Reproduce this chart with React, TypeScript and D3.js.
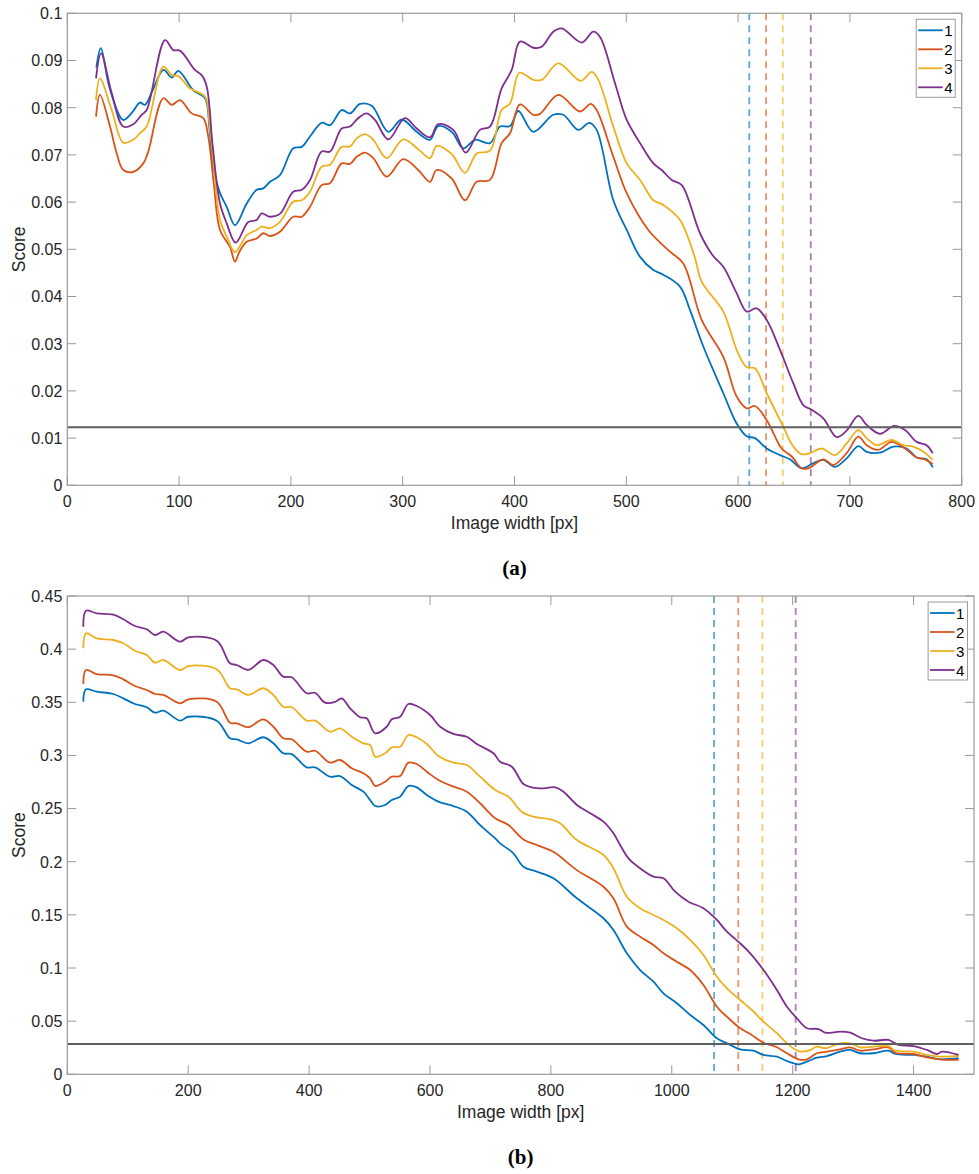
import React from "react";
import * as d3 from "d3";

// ---------- DATA ----------
const seriesNames = ["1", "2", "3", "4"];
const seriesColors = ["#0072BD", "#D95319", "#EDB120", "#7E2F8E"];

const xTicksA = [0, 100, 200, 300, 400, 500, 600, 700, 800];
const yTicksA = [0, 0.01, 0.02, 0.03, 0.04, 0.05, 0.06, 0.07, 0.08, 0.09, 0.1];
const yTickLabelsA = ["0", "0.01", "0.02", "0.03", "0.04", "0.05", "0.06", "0.07", "0.08", "0.09", "0.1"];
const xTicksB = [0, 200, 400, 600, 800, 1000, 1200, 1400];
const yTicksB = [0, 0.05, 0.1, 0.15, 0.2, 0.25, 0.3, 0.35, 0.4, 0.45];
const yTickLabelsB = ["0", "0.05", "0.1", "0.15", "0.2", "0.25", "0.3", "0.35", "0.4", "0.45"];

const thresholdA = 0.0123;
const thresholdB = 0.0285;
const cutoffsA = [610, 625, 640, 665];
const cutoffsB = [1070, 1110, 1150, 1205];

const a1: [number, number][] = [[26,0.0885],[30,0.0926],[38,0.084],[50,0.0774],[58,0.079],[65,0.0811],[69.4,0.0806],[76,0.0835],[86,0.088],[93.4,0.0864],[99.3,0.0878],[112.7,0.0837],[123.2,0.082],[127,0.076],[130.6,0.0675],[136.6,0.0619],[142.6,0.059],[150,0.0551],[160.5,0.0597],[169.4,0.0626],[175.3,0.0629],[181.3,0.0643],[190.2,0.0657],[202.1,0.0714],[209.7,0.0717],[217.1,0.0739],[227.5,0.0768],[235,0.0763],[245.4,0.0795],[252.9,0.0788],[261.8,0.0808],[272.3,0.0804],[287.1,0.0749],[299.1,0.0775],[312.5,0.0749],[324.4,0.0732],[331.8,0.0761],[343.8,0.0749],[354.2,0.0714],[364.7,0.0732],[378.1,0.0725],[387,0.076],[396,0.0761],[403.4,0.0793],[416.8,0.0749],[434.7,0.0785],[443.6,0.0785],[457.1,0.0753],[466.9,0.0768],[473.5,0.0753],[488.4,0.0604],[500.4,0.0541],[512.3,0.0484],[524.2,0.0456],[533.1,0.0446],[548,0.0421],[557,0.0371],[568.9,0.0294],[586.8,0.0195],[598.7,0.0131],[607.7,0.0104],[615.1,0.01],[625.6,0.0078],[637.5,0.0064],[646.4,0.0055],[656.9,0.0036],[667.3,0.0047],[676.2,0.0054],[686.7,0.0039],[697.1,0.0057],[707.5,0.0083],[715,0.0071],[726.9,0.0069],[738.8,0.0082],[750.7,0.0078],[759.7,0.0059],[768.6,0.0055],[774.1,0.0038]];
const a2: [number, number][] = [[25.7,0.0781],[29.2,0.0827],[38.2,0.076],[44,0.0705],[50.1,0.0668],[59,0.0664],[68,0.0682],[72.4,0.0707],[85.9,0.082],[93.4,0.0806],[100.8,0.0816],[111.3,0.0788],[121.6,0.0778],[126,0.074],[131,0.064],[136.6,0.0541],[145.5,0.0505],[150,0.0474],[154,0.0495],[160.5,0.0516],[169.4,0.0523],[175.3,0.0534],[181.3,0.0528],[190.2,0.0537],[202.1,0.0569],[209.7,0.0569],[217.1,0.059],[227.5,0.0636],[235,0.064],[245.4,0.0682],[252.9,0.0681],[258.9,0.0696],[266.3,0.0705],[273.7,0.0693],[285.7,0.0654],[300.5,0.0691],[313.9,0.0668],[324.4,0.0643],[330.4,0.0668],[343.8,0.065],[355.7,0.0604],[366.2,0.0643],[378.1,0.0647],[388.5,0.0725],[396,0.0746],[404.9,0.0807],[416.8,0.0785],[422.8,0.0787],[439.2,0.0827],[458.6,0.0792],[468.2,0.0808],[473.5,0.0795],[488.4,0.0696],[500.4,0.0619],[519.7,0.0541],[539.1,0.0495],[551,0.047],[567.5,0.035],[586.8,0.0272],[598.7,0.0188],[607.7,0.0163],[615.1,0.0168],[625.6,0.0138],[639,0.0078],[648,0.0061],[656.9,0.0036],[662.8,0.0036],[676.2,0.0055],[685.2,0.0043],[697.1,0.0068],[707.5,0.0103],[715,0.0085],[725.4,0.0075],[737.3,0.0092],[749.3,0.0078],[759.7,0.0059],[767.1,0.0055],[774.1,0.0045]];
const a3: [number, number][] = [[25.7,0.0816],[29.2,0.0862],[39.7,0.0795],[50.1,0.0726],[59,0.0732],[65,0.0746],[71,0.076],[85.9,0.0887],[93.4,0.0869],[99.3,0.0867],[109.8,0.0841],[123.2,0.0823],[127,0.077],[131,0.068],[136.6,0.0562],[143,0.0525],[150,0.0494],[160.5,0.053],[169.4,0.0541],[173.8,0.0548],[181.3,0.0545],[190.2,0.0558],[202.1,0.0601],[209.7,0.0604],[217.1,0.0622],[227.5,0.0675],[235,0.0679],[245.4,0.0717],[252.9,0.0718],[258.9,0.0735],[266.3,0.0744],[273.7,0.0732],[285.7,0.0693],[300.5,0.0733],[313.9,0.0712],[324.4,0.0693],[330.4,0.0719],[343.8,0.0702],[355.7,0.0662],[366.2,0.0703],[378.1,0.0709],[388.5,0.0795],[396,0.0809],[404.4,0.0874],[416.8,0.0859],[424.3,0.0859],[439.2,0.0894],[459.2,0.0857],[469.1,0.0876],[475,0.0859],[488.4,0.076],[500.4,0.0682],[512.3,0.0647],[524.2,0.0604],[533.1,0.0594],[548,0.0562],[561,0.0485],[567.5,0.0431],[586.8,0.0368],[598.7,0.0287],[607.7,0.025],[615.1,0.0248],[625.6,0.0195],[639,0.0131],[649.4,0.0082],[656.9,0.0066],[664.3,0.0068],[674.8,0.0078],[686.7,0.0064],[697.1,0.0089],[707.5,0.0117],[715,0.01],[724,0.0085],[737.3,0.0096],[747.8,0.0085],[756.7,0.0082],[765.7,0.0071],[774.1,0.0054]];
const a4: [number, number][] = [[25.7,0.0862],[30.2,0.0915],[39.7,0.0831],[50.1,0.076],[59,0.0765],[66.5,0.0785],[71,0.0795],[87.4,0.0943],[94.8,0.0922],[100.8,0.0921],[114.2,0.088],[120.2,0.0869],[124.7,0.0845],[130,0.072],[136.6,0.0597],[142.6,0.0555],[150.6,0.0514],[161.9,0.0558],[169.4,0.0562],[173.8,0.0576],[181.3,0.0569],[190.2,0.0575],[202.1,0.0622],[209.7,0.0626],[217.1,0.0647],[227.5,0.0707],[235,0.0707],[245.4,0.0756],[252.9,0.076],[260.3,0.0778],[267.8,0.0788],[275.2,0.0774],[287.1,0.0733],[302,0.0778],[312.5,0.0756],[324.4,0.0737],[331.8,0.0765],[345.3,0.0753],[356.3,0.0705],[369.1,0.0753],[378.1,0.076],[388.5,0.0841],[397.5,0.088],[404.9,0.094],[416.8,0.0927],[424.3,0.0929],[434.7,0.0961],[442.2,0.0968],[460.1,0.0938],[470.5,0.0961],[476.5,0.095],[489.9,0.0852],[500.4,0.0774],[512.3,0.0725],[524.2,0.0682],[531.7,0.0668],[540.6,0.0647],[549.6,0.0636],[565.9,0.0534],[577,0.0488],[586.8,0.0463],[598.7,0.0407],[607.7,0.0368],[616.6,0.0375],[625.6,0.035],[637.5,0.0287],[649.4,0.0216],[658.3,0.017],[665.8,0.016],[676.2,0.0142],[688.2,0.0102],[697.1,0.0116],[707.5,0.0147],[715,0.0128],[726.9,0.0109],[739.4,0.0126],[749.3,0.0117],[759.7,0.0092],[768.6,0.0085],[774.1,0.0068]];

const b1: [number, number][] = [[26.5,0.3506],[30.9,0.3622],[48.6,0.36],[76.1,0.3578],[92.7,0.3537],[112,0.3484],[131.4,0.3453],[145.1,0.3402],[158.9,0.3421],[186.5,0.3327],[200.2,0.3364],[247.2,0.3327],[269.2,0.3161],[280.3,0.3152],[299.5,0.3114],[324.3,0.3171],[340.9,0.3114],[357.4,0.302],[371.3,0.3013],[396.2,0.2888],[409.9,0.2888],[434.7,0.28],[451.3,0.2806],[470.6,0.2722],[489.8,0.2659],[500.9,0.2581],[509.2,0.2524],[525.7,0.2534],[536.8,0.2581],[550.6,0.2612],[564.3,0.2712],[578.2,0.27],[594.7,0.2628],[614,0.2565],[638.8,0.2524],[660.9,0.2471],[682.9,0.2345],[707.8,0.222],[716,0.2173],[738,0.2079],[754.6,0.1953],[776.8,0.1906],[804.2,0.1844],[843,0.1656],[887,0.1468],[903.5,0.1358],[925.7,0.1138],[947.7,0.0981],[969.7,0.0871],[986.3,0.0762],[1008.4,0.0668],[1030.5,0.0558],[1052.4,0.0464],[1074.6,0.0339],[1091.2,0.0292],[1113.2,0.0235],[1135.2,0.0222],[1151.8,0.0182],[1173.9,0.0166],[1190.5,0.0125],[1209.7,0.0094],[1223.6,0.0119],[1240.1,0.0156],[1256.7,0.0172],[1278.7,0.0213],[1295.2,0.0229],[1311.8,0.0198],[1333.8,0.0198],[1358.6,0.0222],[1369.7,0.0191],[1400,0.0182],[1422.2,0.0166],[1444.2,0.0141],[1474.5,0.0151]];
const b2: [number, number][] = [[26.5,0.3672],[30.9,0.3804],[48.6,0.3766],[76.1,0.3754],[92.7,0.3716],[112,0.3653],[131.4,0.3616],[145.1,0.3578],[158.9,0.3569],[186.5,0.349],[200.2,0.3528],[247.2,0.3506],[269.2,0.3308],[280.3,0.3302],[299.5,0.3265],[324.3,0.334],[340.9,0.327],[357.4,0.3161],[371.3,0.3152],[396.2,0.3035],[409.9,0.3044],[434.7,0.2932],[451.3,0.2957],[470.6,0.2879],[489.8,0.2832],[500.9,0.2785],[509.2,0.2712],[525.7,0.2753],[536.8,0.28],[550.6,0.2806],[564.3,0.2932],[578.2,0.2919],[594.7,0.2847],[614,0.2769],[638.8,0.2706],[660.9,0.2659],[682.9,0.255],[707.8,0.2409],[729.8,0.2345],[754.6,0.221],[776.8,0.2157],[804.2,0.2094],[843,0.1921],[887,0.1765],[903.5,0.1656],[925.7,0.1389],[947.7,0.1295],[969.7,0.1216],[986.3,0.1138],[1008.4,0.1059],[1030.5,0.0981],[1052.4,0.084],[1074.6,0.0636],[1091.2,0.0542],[1113.2,0.0433],[1129.8,0.0379],[1151.8,0.0297],[1173.9,0.0254],[1190.5,0.0198],[1209.7,0.0141],[1223.6,0.0141],[1240.1,0.0198],[1256.7,0.0213],[1278.7,0.0235],[1295.2,0.0254],[1311.8,0.0222],[1333.8,0.0235],[1358.6,0.0254],[1369.7,0.0203],[1400,0.0191],[1422.2,0.016],[1444.2,0.0141],[1474.5,0.0135]];
const b3: [number, number][] = [[26.5,0.4008],[30.9,0.4149],[48.6,0.4102],[76.1,0.4086],[92.7,0.4055],[112,0.3985],[131.4,0.3945],[145.1,0.3873],[158.9,0.3898],[186.5,0.3804],[200.2,0.3841],[247.2,0.381],[269.2,0.3632],[280.3,0.3622],[299.5,0.3569],[324.3,0.3632],[340.9,0.3569],[357.4,0.3458],[371.3,0.3453],[396.2,0.3327],[409.9,0.3327],[434.7,0.3223],[451.3,0.3255],[470.6,0.3176],[489.8,0.3114],[500.9,0.3098],[509.2,0.2988],[525.7,0.302],[536.8,0.3076],[550.6,0.3082],[564.3,0.3192],[578.2,0.3171],[594.7,0.3108],[614,0.2995],[638.8,0.2932],[660.9,0.291],[682.9,0.28],[707.8,0.2675],[729.8,0.2612],[751.9,0.2471],[771.1,0.2424],[798.8,0.2399],[815.3,0.2361],[843,0.2204],[887,0.2063],[903.5,0.1938],[925.7,0.1671],[947.7,0.1562],[969.7,0.1499],[986.3,0.1452],[1008.4,0.1374],[1030.5,0.1264],[1052.4,0.1122],[1074.6,0.0918],[1091.2,0.0809],[1113.2,0.0699],[1132.5,0.0605],[1151.8,0.0495],[1173.9,0.0386],[1190.5,0.0292],[1209.7,0.0219],[1226.3,0.0222],[1240.1,0.026],[1253.9,0.0245],[1278.7,0.0292],[1295.2,0.0292],[1311.8,0.0254],[1333.8,0.026],[1358.6,0.0266],[1369.7,0.0222],[1400,0.0213],[1422.2,0.0182],[1444.2,0.0166],[1474.5,0.0172]];
const b4: [number, number][] = [[26.5,0.4211],[30.9,0.4362],[48.6,0.4337],[76.1,0.4324],[92.7,0.4281],[112,0.4218],[131.4,0.4187],[145.1,0.4133],[158.9,0.4164],[186.5,0.407],[200.2,0.4111],[247.2,0.4079],[269.2,0.3867],[280.3,0.3851],[299.5,0.3804],[324.3,0.3898],[340.9,0.3851],[357.4,0.3741],[371.3,0.3735],[396.2,0.3585],[409.9,0.359],[426.4,0.3496],[443,0.3503],[454.1,0.3537],[467.8,0.3443],[484.4,0.3359],[495.4,0.3349],[509.2,0.3208],[528.5,0.327],[536.8,0.334],[550.6,0.3364],[564.3,0.3484],[578.2,0.3465],[600.2,0.338],[616.8,0.327],[638.8,0.3202],[660.9,0.3176],[677.5,0.3108],[705,0.302],[716,0.2941],[735.4,0.2894],[754.6,0.2731],[768.5,0.27],[787.7,0.2691],[807,0.27],[820.8,0.2659],[843,0.2534],[865,0.2456],[887,0.2377],[903.5,0.2267],[914.6,0.2157],[928.4,0.2032],[947.7,0.1938],[969.7,0.1859],[986.3,0.1844],[1005.6,0.1718],[1027.6,0.1624],[1052.4,0.1562],[1074.6,0.1452],[1091.2,0.1342],[1113.2,0.1232],[1129.8,0.1138],[1151.8,0.0981],[1173.9,0.0793],[1190.5,0.0636],[1207,0.0527],[1223.6,0.0433],[1242.8,0.0426],[1253.9,0.0391],[1278.7,0.0401],[1295.2,0.0391],[1314.6,0.0339],[1333.8,0.0316],[1358.6,0.0323],[1375.2,0.0276],[1400,0.0266],[1422.2,0.0229],[1438.7,0.0191],[1447,0.0213],[1474.5,0.0182]];

// ---------- RENDERING ----------
const FONT = "'Liberation Sans', Arial, Helvetica, sans-serif";
const AXIS_COLOR = "#9a9a9a";
const TEXT_COLOR = "#262626";

type PanelProps = {
  left: number; right: number; top: number; bottom: number;
  xDomain: [number, number]; yDomain: [number, number];
  xTicks: number[]; yTicks: number[]; yTickLabels: string[];
  series: [number, number][][];
  threshold: number; cutoffs: number[];
  legendW: number; caption: string;
};

function Panel(p: PanelProps) {
  const x = d3.scaleLinear().domain(p.xDomain).range([p.left, p.right]);
  const y = d3.scaleLinear().domain(p.yDomain).range([p.bottom, p.top]);
  const line = d3.line<[number, number]>()
    .x(d => x(d[0])).y(d => y(d[1]))
    .curve(d3.curveCatmullRom.alpha(0.5));
  const tl = 9;
  const midX = (p.left + p.right) / 2;
  const midY = (p.top + p.bottom) / 2;
  const lgX = p.right - 6.5 - p.legendW;
  const lgY = p.top + 6;
  const rowH = 19;
  return (
    <g>
      {/* dashed cutoff lines */}
      {p.cutoffs.map((c, i) => (
        <line key={"c" + i} x1={x(c)} x2={x(c)} y1={p.top} y2={p.bottom}
          stroke={seriesColors[i]} strokeOpacity={0.62} strokeWidth={1.8} strokeDasharray="7,5" />
      ))}
      {/* series */}
      {p.series.map((s, i) => (
        <path key={"s" + i} d={line(s) || ""} fill="none" stroke={seriesColors[i]} strokeWidth={1.8} strokeLinejoin="round" />
      ))}
      {/* threshold */}
      <line x1={p.left} x2={p.right} y1={y(p.threshold)} y2={y(p.threshold)} stroke="#5f5f5f" strokeWidth={1.8} />
      {/* box */}
      <rect x={p.left} y={p.top} width={p.right - p.left} height={p.bottom - p.top} fill="none" stroke={AXIS_COLOR} strokeWidth={1.2} />
      {/* ticks */}
      {p.xTicks.map((t, i) => (
        <g key={"xt" + i}>
          <line x1={x(t)} x2={x(t)} y1={p.bottom} y2={p.bottom - tl} stroke={AXIS_COLOR} strokeWidth={1} />
          <line x1={x(t)} x2={x(t)} y1={p.top} y2={p.top + tl} stroke={AXIS_COLOR} strokeWidth={1} />
          <text x={x(t)} y={p.bottom + 22} textAnchor="middle" fontFamily={FONT} fontSize={16} fill={TEXT_COLOR}>{String(t)}</text>
        </g>
      ))}
      {p.yTicks.map((t, i) => (
        <g key={"yt" + i}>
          <line x1={p.left} x2={p.left + tl} y1={y(t)} y2={y(t)} stroke={AXIS_COLOR} strokeWidth={1} />
          <line x1={p.right} x2={p.right - tl} y1={y(t)} y2={y(t)} stroke={AXIS_COLOR} strokeWidth={1} />
          <text x={p.left - 5} y={y(t) + 5.8} textAnchor="end" fontFamily={FONT} fontSize={16} fill={TEXT_COLOR}>{p.yTickLabels[i]}</text>
        </g>
      ))}
      {/* axis labels */}
      <text x={midX} y={p.bottom + 44} textAnchor="middle" fontFamily={FONT} fontSize={17.5} fill={TEXT_COLOR}>Image width [px]</text>
      <text transform={`translate(25,${midY}) rotate(-90)`} textAnchor="middle" fontFamily={FONT} fontSize={17.5} fill={TEXT_COLOR}>Score</text>
      {/* caption */}
      <text x={midX} y={p.bottom + 90} textAnchor="middle" fontFamily="'Liberation Serif', 'Times New Roman', serif" fontWeight="bold" fontSize={21} fill="#000">{p.caption}</text>
      {/* legend */}
      <rect x={lgX} y={lgY} width={p.legendW} height={rowH * 4 + 2} fill="#fff" stroke={AXIS_COLOR} strokeWidth={1} />
      {seriesNames.map((n, i) => (
        <g key={"lg" + i}>
          <line x1={lgX + 2} x2={lgX + 26.5} y1={lgY + 11 + i * rowH} y2={lgY + 11 + i * rowH} stroke={seriesColors[i]} strokeWidth={1.8} />
          <text x={lgX + 28} y={lgY + 16.5 + i * rowH} fontFamily={FONT} fontSize={15} fill="#000">{n}</text>
        </g>
      ))}
    </g>
  );
}

export default function App() {
  return (
    <svg width={979} height={1174} viewBox="0 0 979 1174" style={{ position: "absolute", left: 0, top: 0, background: "#fff" }}>
      <rect x={0} y={0} width={979} height={1174} fill="#fff" />
      <Panel left={67.3} right={961.7} top={13.3} bottom={485.3}
        xDomain={[0, 800]} yDomain={[0, 0.1]}
        xTicks={xTicksA} yTicks={yTicksA} yTickLabels={yTickLabelsA}
        series={[a1, a2, a3, a4]} threshold={thresholdA} cutoffs={cutoffsA}
        legendW={39} caption="(a)" />
      <Panel left={67.3} right={974} top={596} bottom={1074.3}
        xDomain={[0, 1500]} yDomain={[0, 0.45]}
        xTicks={xTicksB} yTicks={yTicksB} yTickLabels={yTickLabelsB}
        series={[b1, b2, b3, b4]} threshold={thresholdB} cutoffs={cutoffsB}
        legendW={39.4} caption="(b)" />
    </svg>
  );
}
